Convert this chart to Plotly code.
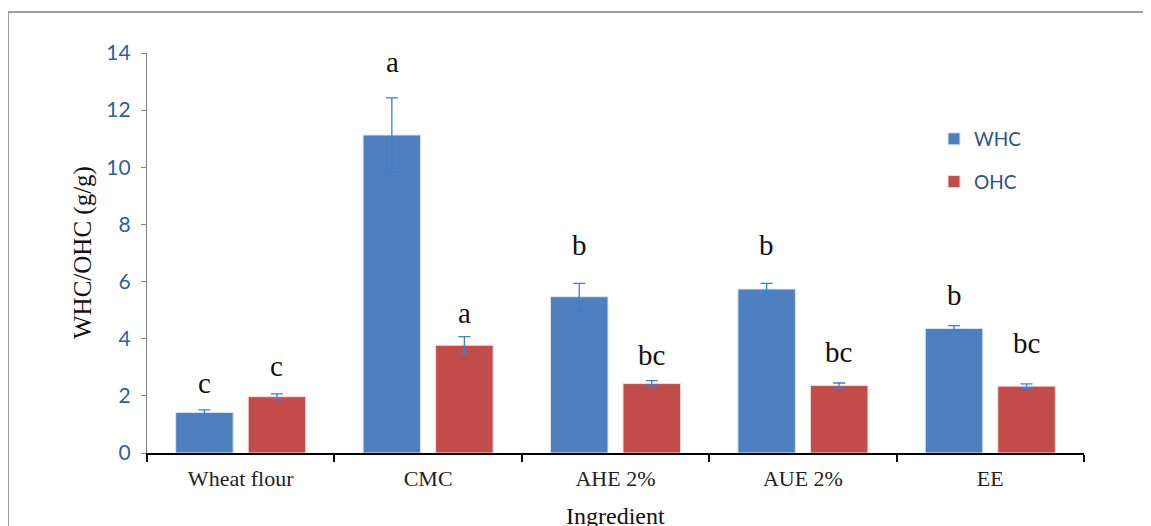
import plotly.graph_objects as go

categories = ["Wheat flour", "CMC", "AHE 2%", "AUE 2%", "EE"]
whc = [1.42, 11.13, 5.47, 5.74, 4.36]
whc_err = [0.09, 1.30, 0.47, 0.20, 0.10]
ohc = [1.97, 3.77, 2.43, 2.36, 2.34]
ohc_err = [0.10, 0.30, 0.10, 0.09, 0.08]
whc_letters = ["c", "a", "b", "b", "b"]
ohc_letters = ["c", "a", "bc", "bc", "bc"]
whc_letter_y = [2.45, 13.7, 7.28, 7.28, 5.53]
ohc_letter_y = [3.05, 4.9, 3.43, 3.55, 3.85]
y_ticks = [0, 2, 4, 6, 8, 10, 12, 14]

err_color = "#3F7FD0"
serif = "Liberation Serif"

fig = go.Figure()
fig.add_trace(go.Bar(
    name="WHC", x=categories, y=whc, legendgroup="w",
    marker=dict(color="#4E7FBF", line=dict(color="#DCE6F2", width=1)),
    error_y=dict(type="data", array=whc_err, color=err_color, thickness=1.3, width=6),
))
fig.add_trace(go.Bar(
    name="OHC", x=categories, y=ohc, legendgroup="o",
    marker=dict(color="#C24C4A", line=dict(color="#F2DCDB", width=1)),
    error_y=dict(type="data", array=ohc_err, color=err_color, thickness=1.3, width=6),
))

annotations = []
for cat, lt, ly in zip(categories, whc_letters, whc_letter_y):
    annotations.append(dict(x=cat, y=ly, text=lt, showarrow=False, xshift=-36,
                            yanchor="middle", font=dict(family=serif, size=29, color="#111")))
for cat, lt, ly in zip(categories, ohc_letters, ohc_letter_y):
    annotations.append(dict(x=cat, y=ly, text=lt, showarrow=False, xshift=36,
                            yanchor="middle", font=dict(family=serif, size=29, color="#111")))
annotations.append(dict(xref="paper", yref="paper", x=(83 - 147) / 937, y=0.5,
                        text="WHC/OHC (g/g)", textangle=-90, showarrow=False,
                        xanchor="center", yanchor="middle",
                        font=dict(family=serif, size=25, color="#111")))
annotations.append(dict(xref="paper", yref="paper", x=0.5, y=(453 - 516) / 400,
                        text="Ingredient", showarrow=False,
                        xanchor="center", yanchor="middle",
                        font=dict(family=serif, size=24, color="#111")))

frame = dict(color="#7F7F7F", width=1.5)
x_left = (8 - 147) / 937
y_top = (453 - 12) / 400

# the page places the figure 8px from the top-left corner; margins compensate
fig.update_layout(
    width=1151, height=526,
    margin=dict(l=139, r=75, t=45, b=81),
    paper_bgcolor="white", plot_bgcolor="white",
    barmode="group", bargap=0.226, bargroupgap=0.207,
    showlegend=True,
    legend=dict(x=(934 - 147) / 937, y=(453 - 120) / 400, xanchor="left", yanchor="top",
                font=dict(family="Lato", size=19, color="#2E4F82"),
                tracegroupgap=15, itemwidth=30, bgcolor="rgba(0,0,0,0)"),
    annotations=annotations,
    shapes=[
        dict(type="line", xref="paper", yref="paper", x0=x_left, x1=1.2,
             y0=y_top, y1=y_top, line=frame, layer="below"),
        dict(type="line", xref="paper", yref="paper", x0=x_left, x1=x_left,
             y0=y_top, y1=-0.3, line=frame, layer="below"),
    ],
)
fig.update_xaxes(
    showline=True, linecolor="#000", linewidth=1.5,
    ticks="outside", tickson="boundaries", ticklen=7, tickcolor="#000", tickwidth=1.5,
    ticklabelstandoff=5,
    tickfont=dict(family=serif, size=22, color="#222"), showgrid=False,
)
fig.update_yaxes(
    range=[0, 14], tickvals=y_ticks, showline=True, linecolor="#808080", linewidth=1.3,
    ticks="outside", ticklen=5, tickcolor="#808080", ticklabelstandoff=6,
    tickfont=dict(family="Lato", size=21, color="#2F5F9A"), showgrid=False, zeroline=False,
)

fig.write_html("out.html")
